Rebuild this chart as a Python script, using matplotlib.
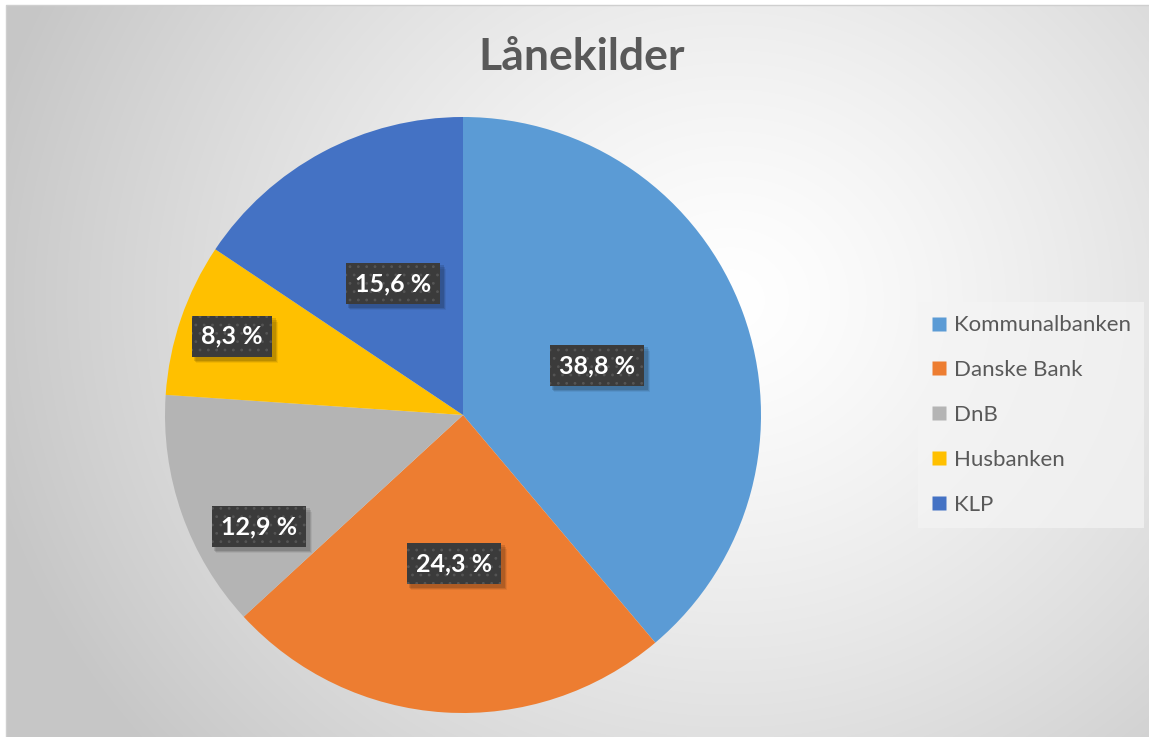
import numpy as np
import matplotlib.pyplot as plt
from matplotlib.patches import Rectangle
from matplotlib.transforms import IdentityTransform
from matplotlib.lines import Line2D

plt.rcParams['font.family'] = ['Lato', 'DejaVu Sans']
plt.rcParams['hatch.linewidth'] = 0.8

# data
labels = ['Kommunalbanken', 'Danske Bank', 'DnB', 'Husbanken', 'KLP']
shares = [38.8, 24.3, 12.9, 8.3, 15.6]
colors = ['#5B9BD5', '#ED7D31', '#B4B4B4', '#FFC000', '#4472C4']
title = 'Lånekilder'

# where each data label sits: fraction of radius, fraction along the wedge
label_dist = [0.48, 0.50, 0.78, 0.82, 0.50]
label_frac = [0.5, 0.5, 0.3, 0.5, 0.5]

W, H = 1149, 737
fig = plt.figure(figsize=(W / 100, H / 100), dpi=100)
fig.patch.set_facecolor('white')

# background with radial gradient
bg = fig.add_axes([0, 0, 1, 1])
yy, xx = np.mgrid[0:H, 0:W]
d = np.hypot(xx - 730., (yy - 300.) * 1.1) / 760.
v = 1.0 - 0.22 * np.clip(d, 0, 1) ** 1.3
img = np.dstack([v, v, v])
left, top = 6, 5
img[:, :left] = 1.0
img[:top, :] = 1.0
bg.imshow(img, extent=(0, W, H, 0), interpolation='bilinear')
bg.plot([left, left, W - 1], [H, top, top], color='#cfcfcf', lw=1)
bg.set_xlim(0, W)
bg.set_ylim(H, 0)
bg.axis('off')

# pie
cx, cy, R = 463, 415, 298
ax = fig.add_axes([(cx - R) / W, (H - cy - R) / H, 2 * R / W, 2 * R / H])
wedges, _ = ax.pie(shares, colors=colors, startangle=90, counterclock=False,
                   radius=1.0, wedgeprops=dict(linewidth=0))
ax.set_xlim(-1, 1)
ax.set_ylim(-1, 1)
ax.axis('off')

pct_texts = []
for w, val, dist, frac in zip(wedges, shares, label_dist, label_frac):
    # counterclock=False: wedge runs from theta2 down to theta1
    a = w.theta2 - frac * (w.theta2 - w.theta1)
    ang = np.deg2rad(a)
    x, y = dist * np.cos(ang), dist * np.sin(ang)
    txt = ('%.1f %%' % val).replace('.', ',')
    t = ax.text(x, y, txt, ha='center', va='center', fontsize=18,
                fontweight='bold', color='white', zorder=4,
                bbox=dict(boxstyle='square,pad=0.36', fc='#3b3b3b',
                          ec='#555555', lw=0, hatch='..'))
    pct_texts.append(t)

# soft drop shadows under the label boxes
fig.canvas.draw()
for t in pct_texts:
    bb = t.get_bbox_patch().get_window_extent()
    for k, al in [(5, 0.06), (4, 0.10), (3, 0.12)]:
        ax.add_patch(Rectangle((bb.x0 + k - 1, bb.y0 - k - 1),
                               bb.width + 2, bb.height + 2 - k + 3,
                               transform=IdentityTransform(), fc='black',
                               alpha=al, lw=0, zorder=2))

fig.text(582 / W, 1 - 57 / H, title, ha='center', va='center',
         fontsize=32, fontweight='bold', color='#595959')

handles = [Line2D([], [], marker='s', ls='none', markersize=10.5,
                  markerfacecolor=c, markeredgecolor='none') for c in colors]
leg = fig.legend(handles, labels, loc='upper left',
                 bbox_to_anchor=(918 / W, 1 - 302 / H), frameon=True,
                 fontsize=16, labelspacing=1.12, handlelength=0.7,
                 handletextpad=0.3, borderpad=0.6, borderaxespad=0,
                 fancybox=False)
leg.get_frame().set_facecolor('#f4f4f4')
leg.get_frame().set_alpha(0.7)
leg.get_frame().set_edgecolor('none')
for t in leg.get_texts():
    t.set_color('#595959')

fig.savefig('out.png', dpi=100)
